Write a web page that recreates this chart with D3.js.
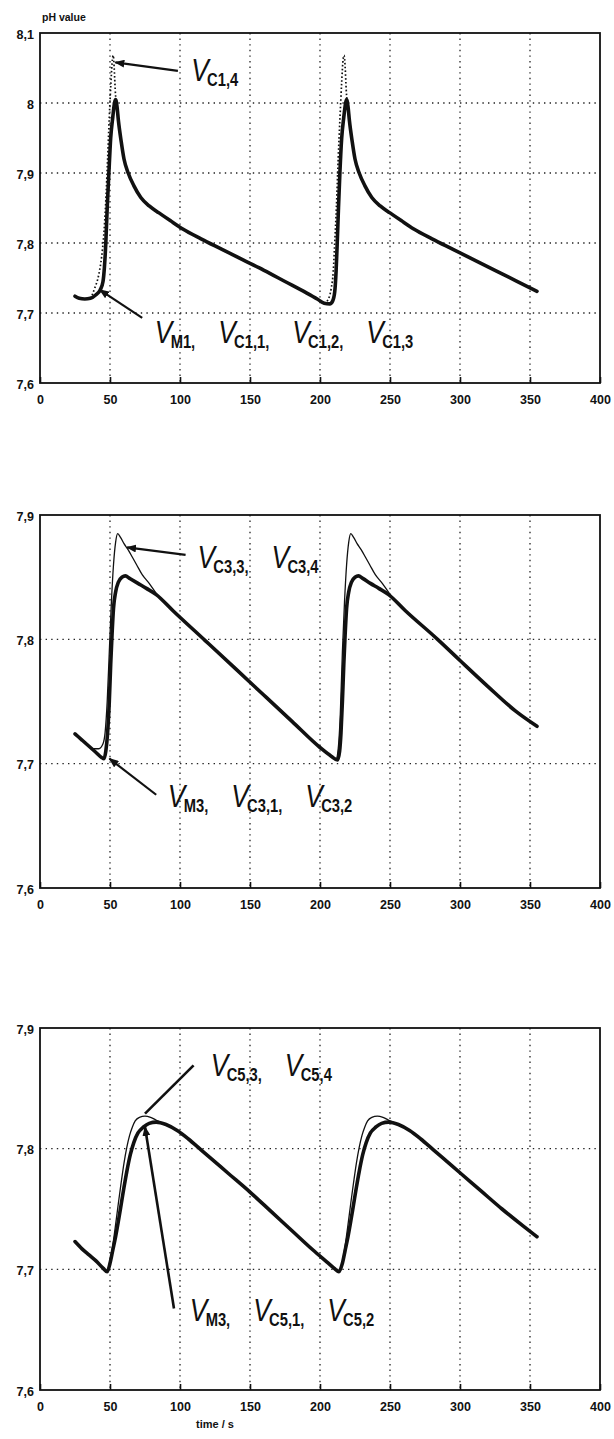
<!DOCTYPE html>
<html><head><meta charset="utf-8">
<script src="https://cdn.jsdelivr.net/npm/d3@7"></script>
<style>
html,body{margin:0;padding:0;background:#fff;}
svg{display:block;}
.tick-label{font-family:"Liberation Sans",Arial,Helvetica,sans-serif;font-weight:bold;font-size:12.5px;fill:#111;}
.ann{font-family:"Liberation Sans",Arial,Helvetica,sans-serif;fill:#111;}
</style></head><body>
<svg id="chart" width="614" height="1439"></svg>
<script>
// ---- axis ticks ----
const timeTicks = [0, 50, 100, 150, 200, 250, 300, 350, 400];
const timeTickLabels = ["0", "50", "100", "150", "200", "250", "300", "350", "400"];
const phTicksTop = [7.6, 7.7, 7.8, 7.9, 8.0, 8.1];
const phTickLabelsTop = ["7,6", "7,7", "7,8", "7,9", "8", "8,1"];
const phTicks = [7.6, 7.7, 7.8, 7.9];
const phTickLabels = ["7,6", "7,7", "7,8", "7,9"];

// ---- series: [time / s, pH value] ----
// panel 1: V_M1, V_C1,1, V_C1,2, V_C1,3 (coincident)
const vM1 = [[25,7.724],[28,7.721],[32,7.72],[36,7.721],[40,7.726],[43,7.733],[45,7.745],[46,7.765],[47,7.8],[48,7.85],[49.2,7.9],[50.5,7.95],[52,7.98],[53.2,8.0],[54,8.005],[55,7.995],[56,7.975],[58,7.945],[60,7.92],[63,7.9],[67,7.882],[72,7.865],[78,7.853],[85,7.843],[93,7.832],[102,7.82],[115,7.806],[130,7.791],[145,7.776],[160,7.761],[175,7.745],[190,7.729],[198,7.72],[203,7.714],[207,7.713],[209,7.717],[210.5,7.73],[211.5,7.76],[212.3,7.8],[213.2,7.85],[214.2,7.9],[215.5,7.95],[217,7.98],[218.3,8.0],[219,8.005],[220,7.995],[221,7.975],[223,7.945],[225,7.92],[228,7.9],[232,7.882],[237,7.865],[243,7.853],[250,7.843],[258,7.832],[267,7.82],[280,7.806],[295,7.791],[310,7.776],[325,7.761],[340,7.746],[355,7.731]];
// panel 1: V_C1,4
const vC14 = [[25,7.724],[32,7.72],[36,7.722],[39,7.735],[42,7.755],[44,7.78],[45.5,7.81],[47,7.86],[48.3,7.92],[49.5,7.98],[50.7,8.03],[51.7,8.062],[52.3,8.068],[53,8.05],[53.7,8.02],[54.5,7.998],[55.5,7.985],[56,7.975],[58,7.945],[60,7.92],[63,7.9],[67,7.882],[72,7.865],[78,7.853],[85,7.843],[93,7.832],[102,7.82],[115,7.806],[130,7.791],[145,7.776],[160,7.761],[175,7.745],[190,7.729],[198,7.72],[203,7.714],[206,7.72],[208,7.735],[209.5,7.76],[210.5,7.8],[211.7,7.85],[213,7.92],[214.3,7.98],[215.5,8.03],[216.5,8.062],[217.2,8.068],[218,8.05],[218.7,8.02],[219.5,7.998],[220.5,7.985],[221,7.975],[223,7.945],[225,7.92],[228,7.9],[232,7.882],[237,7.865],[243,7.853],[250,7.843],[258,7.832],[267,7.82],[280,7.806],[295,7.791],[310,7.776],[325,7.761],[340,7.746],[355,7.731]];
// panel 2: V_M3, V_C3,1, V_C3,2
const vM3a = [[25,7.724],[30,7.719],[35,7.714],[40,7.709],[44,7.705],[45.7,7.704],[47,7.71],[48.3,7.725],[49.5,7.75],[50.5,7.78],[51.5,7.805],[52.5,7.825],[54,7.838],[56,7.846],[58.5,7.85],[61,7.851],[64,7.849],[70,7.845],[76,7.841],[83,7.836],[95,7.823],[118,7.799],[140,7.776],[160,7.755],[180,7.734],[200,7.713],[208,7.706],[212.5,7.703],[214,7.71],[215,7.725],[216,7.75],[217,7.78],[218,7.805],[219,7.825],[220.5,7.838],[222.5,7.846],[225,7.85],[227.5,7.851],[230.5,7.849],[236,7.845],[242,7.841],[249,7.836],[261,7.823],[284,7.8],[300,7.783],[320,7.762],[340,7.742],[355,7.73]];
// panel 2: V_C3,3, V_C3,4
const vC33 = [[25,7.724],[30,7.719],[35,7.714],[38,7.712],[42,7.712],[45,7.716],[46.5,7.725],[48,7.75],[49.5,7.79],[51,7.83],[52.5,7.86],[54,7.878],[55.5,7.885],[57.5,7.882],[60,7.877],[63,7.872],[66,7.866],[69,7.86],[73,7.852],[78,7.845],[83,7.837],[95,7.823],[118,7.799],[140,7.776],[160,7.755],[180,7.734],[200,7.713],[208,7.706],[211.5,7.704],[213,7.712],[214.5,7.74],[216,7.79],[217.5,7.83],[219,7.86],[220.5,7.878],[222,7.885],[224,7.882],[226.5,7.877],[229.5,7.872],[232.5,7.866],[235.5,7.86],[239.5,7.852],[244.5,7.845],[249.5,7.837],[261,7.823],[284,7.8],[300,7.783],[320,7.762],[340,7.742],[355,7.73]];
// panel 3: V_M3, V_C5,1, V_C5,2
const vM3b = [[25,7.723],[30,7.717],[35,7.712],[40,7.707],[45,7.701],[48,7.698],[50,7.705],[52,7.716],[54,7.727],[56,7.74],[58,7.754],[60,7.768],[62,7.781],[64.5,7.795],[67,7.805],[70,7.813],[74,7.818],[78,7.821],[83,7.822],[90,7.82],[98,7.815],[106,7.808],[115,7.799],[125,7.789],[135,7.779],[150,7.764],[165,7.748],[180,7.732],[195,7.716],[205,7.706],[210,7.701],[213.5,7.698],[216,7.705],[218,7.716],[220,7.727],[222,7.74],[224,7.754],[226,7.768],[228,7.781],[230.5,7.795],[233,7.805],[236,7.813],[240,7.818],[244,7.821],[249,7.822],[256,7.82],[264,7.815],[272,7.808],[281,7.799],[291,7.789],[301,7.779],[315,7.765],[330,7.75],[345,7.736],[355,7.727]];
// panel 3: V_C5,3, V_C5,4
const vC53 = [[25,7.723],[30,7.717],[35,7.712],[40,7.707],[45,7.701],[48,7.698],[50,7.706],[52,7.72],[54,7.737],[56,7.755],[58,7.772],[60,7.788],[62,7.801],[64,7.811],[66,7.818],[68,7.823],[71,7.826],[75,7.827],[79,7.826],[84,7.823],[90,7.82],[98,7.815],[106,7.808],[115,7.799],[125,7.789],[135,7.779],[150,7.764],[165,7.748],[180,7.732],[195,7.716],[205,7.706],[210,7.701],[213.5,7.698],[216,7.706],[218,7.72],[220,7.737],[222,7.755],[224,7.772],[226,7.788],[228,7.801],[230,7.811],[232,7.818],[234,7.823],[237,7.826],[241,7.827],[245,7.826],[250,7.823],[256,7.82],[264,7.815],[272,7.808],[281,7.799],[291,7.789],[301,7.779],[315,7.765],[330,7.75],[345,7.736],[355,7.727]];

// ---- annotation texts (subscripts after each V) ----
const labelC14 = ["C1,4"];
const labelP1 = ["M1", "C1,1", "C1,2", "C1,3"];
const labelP2top = ["C3,3", "C3,4"];
const labelP2bot = ["M3", "C3,1", "C3,2"];
const labelP3top = ["C5,3", "C5,4"];
const labelP3bot = ["M3", "C5,1", "C5,2"];

// ---- layout ----
const svg = d3.select("#chart");
const left = 40, right = 600;
const x = d3.scaleLinear().domain([0, 400]).range([left, right]);

const panels = [
  { top: 33, bottom: 383, domain: [7.6, 8.1], ticks: phTicksTop, tickLabels: phTickLabelsTop,
    thin: { data: vC14, dotted: true }, thick: vM1,
    notes: [
      { subs: labelC14, at: [108, 8.031], arrow: [[98.5, 8.046], [53.8, 8.058]], w: 2.2, head: true },
      { subs: labelP1, at: [82, 7.657], arrow: [[73, 7.693], [42.7, 7.733]], w: 2.2, head: true }
    ] },
  { top: 515, bottom: 888, domain: [7.6, 7.9], ticks: phTicks, tickLabels: phTickLabels,
    thin: { data: vC33, dotted: false }, thick: vM3a,
    notes: [
      { subs: labelP2top, at: [112.5, 7.857], arrow: [[104, 7.868], [62.2, 7.874]], w: 2.2, head: true },
      { subs: labelP2bot, at: [91.3, 7.665], arrow: [[83, 7.675], [49.6, 7.704]], w: 2.2, head: true }
    ] },
  { top: 1028, bottom: 1390, domain: [7.6, 7.9], ticks: phTicks, tickLabels: phTickLabels,
    thin: { data: vC53, dotted: false }, thick: vM3b,
    notes: [
      { subs: labelP3top, at: [122, 7.86], arrow: [[109.7, 7.869], [75, 7.829]], w: 2.6, head: false },
      { subs: labelP3bot, at: [107, 7.657], arrow: [[95.7, 7.6675], [75, 7.818]], w: 2.6, head: true }
    ] }
];

// arrowhead
svg.append("defs").append("marker")
  .attr("id", "head").attr("viewBox", "0 0 10 8")
  .attr("refX", 9).attr("refY", 4)
  .attr("markerWidth", 10).attr("markerHeight", 8)
  .attr("markerUnits", "userSpaceOnUse")
  .attr("orient", "auto")
  .append("path").attr("d", "M0,0 L10,4 L0,8 Z").attr("fill", "#111");

// "V" with a subscript, repeated and comma separated; drawn condensed
function addLabel(g, px, py, subs) {
  const t = g.append("text").attr("class", "ann")
    .attr("transform", `translate(${px},${py}) scale(0.82,1)`);
  subs.forEach((s, i) => {
    t.append("tspan")
      .attr("font-size", 32).attr("font-style", "italic")
      .attr("dx", i ? 28 : 0).attr("dy", i ? -5 : 0)
      .text("V");
    t.append("tspan")
      .attr("font-size", 18).attr("font-weight", "bold")
      .attr("dx", -2).attr("dy", 5)
      .text(s + (i < subs.length - 1 ? "," : ""));
  });
}

panels.forEach(p => {
  const y = d3.scaleLinear().domain(p.domain).range([p.bottom, p.top]);
  const g = svg.append("g");

  // dotted grid
  const grid = g.append("g").attr("stroke", "#222").attr("stroke-width", 1.3)
    .attr("stroke-dasharray", "1.4,4.2");
  grid.selectAll("line.v").data(timeTicks.slice(1, -1)).join("line")
    .attr("x1", d => x(d)).attr("x2", d => x(d))
    .attr("y1", p.top).attr("y2", p.bottom);
  grid.selectAll("line.h").data(p.ticks.slice(1, -1)).join("line")
    .attr("x1", left).attr("x2", right)
    .attr("y1", d => y(d)).attr("y2", d => y(d));

  // bottom axis with inward ticks
  const xAxis = d3.axisBottom(x).tickValues(timeTicks)
    .tickFormat((d, i) => timeTickLabels[i]).tickSizeInner(-6).tickSizeOuter(0).tickPadding(12);
  const ax = g.append("g").attr("transform", `translate(0,${p.bottom})`).call(xAxis);
  ax.select(".domain").remove();
  ax.selectAll("line").attr("stroke", "#111").attr("stroke-width", 1.6);
  ax.selectAll("text").attr("class", "tick-label").attr("font-size", null).attr("font-family", null);

  // left axis
  const yAxis = d3.axisLeft(y).tickValues(p.ticks)
    .tickFormat((d, i) => p.tickLabels[i]).tickSizeInner(0).tickSizeOuter(0).tickPadding(6);
  const ay = g.append("g").attr("transform", `translate(${left},0)`).call(yAxis);
  ay.select(".domain").remove();
  ay.selectAll("text").attr("class", "tick-label").attr("font-size", null).attr("font-family", null)
    .attr("dy", "0.42em");

  // frame
  g.append("rect").attr("x", left).attr("y", p.top)
    .attr("width", right - left).attr("height", p.bottom - p.top)
    .attr("fill", "none").attr("stroke", "#111").attr("stroke-width", 1.8);

  const line = d3.line().x(d => x(d[0])).y(d => y(d[1])).curve(d3.curveMonotoneX);

  g.append("path").datum(p.thin.data).attr("d", line)
    .attr("fill", "none").attr("stroke", "#111")
    .attr("stroke-width", p.thin.dotted ? 1.7 : 1.3)
    .attr("stroke-dasharray", p.thin.dotted ? "1.6,2.2" : null);
  g.append("path").datum(p.thick).attr("d", line)
    .attr("fill", "none").attr("stroke", "#111").attr("stroke-width", 3.6)
    .attr("stroke-linejoin", "round").attr("stroke-linecap", "round");

  p.notes.forEach(n => {
    g.append("line")
      .attr("x1", x(n.arrow[0][0])).attr("y1", y(n.arrow[0][1]))
      .attr("x2", x(n.arrow[1][0])).attr("y2", y(n.arrow[1][1]))
      .attr("stroke", "#111").attr("stroke-width", n.w)
      .attr("marker-end", n.head ? "url(#head)" : null);
    addLabel(g, x(n.at[0]), y(n.at[1]), n.subs);
  });
});

// axis titles
svg.append("text").attr("class", "tick-label").attr("x", left + 2).attr("y", 21)
  .style("font-size", "10.5px").text("pH value");
svg.append("text").attr("class", "tick-label").attr("x", x(125)).attr("y", 1428)
  .attr("text-anchor", "middle").style("font-size", "11px").text("time / s");
</script>
</body></html>
